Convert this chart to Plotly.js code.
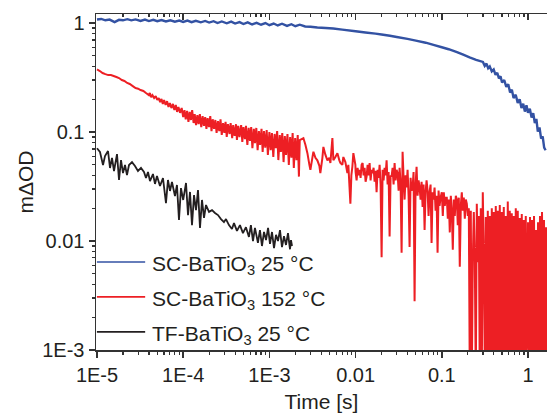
<!DOCTYPE html>
<html>
<head>
<meta charset="utf-8">
<script src="https://cdn.plot.ly/plotly-3.0.1.min.js"></script>
<style>html,body{margin:0;padding:0;background:#fff;}</style>
</head>
<body>
<div id="chart" style="width:547px;height:414px;"></div>
<script>
// ---- Series names ----
const seriesNames = ['SC-BaTiO<sub>3</sub> 25 °C', 'SC-BaTiO<sub>3</sub> 152 °C', 'TF-BaTiO<sub>3</sub> 25 °C'];

// ---- SC-BaTiO3 25 °C (blue) : time [s], mΔOD ----
const tBlue = [
  1e-5,1.12e-5,1.25e-5,1.4e-5,1.6e-5,1.8e-5,2e-5,2.25e-5,2.5e-5,2.8e-5,3.2e-5,3.6e-5,4e-5,4.5e-5,5e-5,5.6e-5,6.3e-5,7.1e-5,8e-5,9e-5,
  1e-4,1.12e-4,1.25e-4,1.4e-4,1.6e-4,1.8e-4,2e-4,2.25e-4,2.5e-4,2.8e-4,3.2e-4,3.6e-4,4e-4,4.5e-4,5e-4,5.6e-4,6.3e-4,7.1e-4,8e-4,9e-4,
  1e-3,1.12e-3,1.25e-3,1.4e-3,1.6e-3,1.8e-3,2e-3,2.25e-3,
  2.6e-3,3e-3,3.6e-3,4.5e-3,5.5e-3,7e-3,0.01,0.013,0.017,0.02,0.025,0.03,0.04,0.05,0.065,0.08,0.1,0.12,0.15,0.18,0.21,0.25,
  0.3,0.315,0.33,0.345,0.36,0.38,0.4,0.42,0.44,0.46,0.48,0.5,0.53,0.56,0.59,0.62,0.65,0.68,0.72,0.76,0.8,0.84,0.88,0.92,0.96,1.0,1.05,1.1,1.15,1.2,1.25,1.3,1.36,1.42,1.48,1.54,1.6
];
const vBlue = [
  1.077,1.09,1.06,1.075,1.02,1.07,1.06,1.085,1.058,1.08,1.045,1.075,1.042,1.07,1.04,1.065,1.035,1.06,1.03,1.055,
  1.025,1.055,1.02,1.05,1.015,1.045,1.01,1.04,1.0,1.035,0.995,1.03,0.99,1.02,0.98,1.015,0.97,1.005,0.965,1.0,
  0.955,0.99,0.95,0.985,0.94,0.975,0.935,0.965,
  0.93,0.925,0.91,0.9,0.89,0.87,0.84,0.82,0.8,0.785,0.765,0.745,0.715,0.69,0.66,0.63,0.6,0.575,0.54,0.51,0.485,0.46,
  0.44,0.405,0.425,0.385,0.40,0.36,0.375,0.335,0.35,0.31,0.325,0.285,0.30,0.26,0.275,0.23,0.245,0.205,0.22,0.185,0.20,0.166,0.182,0.154,0.176,0.150,0.164,0.136,0.149,0.121,0.132,0.101,0.110,0.087,0.091,0.072,0.068
];

// ---- SC-BaTiO3 152 °C (red) ----
const tRed = [
  1e-5,1.08e-5,1.16e-5,1.25e-5,1.35e-5,1.45e-5,1.56e-5,1.68e-5,1.8e-5,1.94e-5,2.08e-5,2.24e-5,2.4e-5,2.6e-5,2.8e-5,3.0e-5,3.2e-5,3.45e-5,3.7e-5,4.0e-5,
  4.1e-5,4.25e-5,4.4e-5,4.6e-5,4.8e-5,5.0e-5,5.2e-5,5.4e-5,5.6e-5,5.8e-5,6.0e-5,6.25e-5,6.5e-5,6.75e-5,7.0e-5,7.3e-5,7.6e-5,7.9e-5,8.2e-5,8.5e-5,8.8e-5,9.2e-5,9.6e-5,
  1.0e-4,1.035e-4,1.07e-4,1.11e-4,1.15e-4,1.19e-4,1.23e-4,1.27e-4,1.32e-4,1.36e-4,
  1.41e-4,1.46e-4,1.51e-4,1.56e-4,1.62e-4,1.68e-4,1.74e-4,1.8e-4,1.86e-4,1.92e-4,
  1.99e-4,2.06e-4,2.13e-4,2.2e-4,2.28e-4,2.36e-4,2.44e-4,2.53e-4,2.62e-4,2.71e-4,
  2.8e-4,2.9e-4,3.0e-4,3.1e-4,3.2e-4,3.3e-4,3.45e-4,3.55e-4,3.7e-4,3.8e-4,
  3.95e-4,4.1e-4,4.2e-4,4.35e-4,4.5e-4,4.7e-4,4.85e-4,5.0e-4,5.2e-4,5.35e-4,
  5.55e-4,5.75e-4,5.95e-4,6.15e-4,6.35e-4,6.6e-4,6.8e-4,7.05e-4,7.3e-4,7.55e-4,
  7.8e-4,8.1e-4,8.35e-4,8.65e-4,8.95e-4,9.3e-4,9.6e-4,
  1.0e-3,1.035e-3,1.07e-3,1.11e-3,1.15e-3,1.19e-3,1.23e-3,1.27e-3,1.32e-3,1.36e-3,
  1.41e-3,1.46e-3,1.51e-3,1.56e-3,1.62e-3,1.68e-3,1.74e-3,1.8e-3,1.86e-3,1.92e-3,
  1.99e-3,2.06e-3,2.13e-3,2.2e-3,2.25e-3,
  2.48e-3,2.62e-3,2.76e-3,2.91e-3,2.99e-3,3.15e-3,3.24e-3,3.42e-3,3.60e-3,3.80e-3,
  3.90e-3,4.12e-3,4.23e-3,4.46e-3,4.71e-3,4.96e-3,5.10e-3,5.38e-3,5.52e-3,5.83e-3,
  6.15e-3,6.48e-3,6.66e-3,7.02e-3,7.21e-3,7.61e-3,8.03e-3,8.24e-3,8.70e-3,8.93e-3,
  9.17e-3,9.42e-3,9.94e-3,
  0.01,0.01027,0.01055,0.01083,0.01113,0.01143,0.01174,0.01206,0.01238,0.01272,
  0.01306,0.01342,0.01378,0.01415,0.01454,0.01493,0.01533,0.01575,0.01617,0.01661,
  0.01706,0.01752,0.01800,0.01849,0.01899,0.01950,0.02003,0.02057,0.02113,0.02170,
  0.02228,0.02289,0.02351,0.02414,0.02480,0.02547,0.02616,0.02686,0.02759,0.02834,
  0.02910,0.02989,0.03070,0.03153,0.03238,0.03326,0.03416,0.03508,0.03603,0.03701,
  0.03801,0.03904,0.04009,0.04118,0.04229,0.04344,0.04461,0.04582,0.04706,0.04833,
  0.04964,0.05098,0.05236,0.05378,0.05523,0.05673,0.05826,0.05984,0.06146,0.06312,
  0.06483,0.06658,0.06838,0.07023,0.07213,0.07409,0.07609,0.07815,0.08026,0.08244,
  0.08467,0.08696,0.08931,0.09173,0.09421,0.09676,
  0.1,0.1027,0.1055,0.1083,0.1113,0.1143,0.1174,0.1206,0.1238,0.1272,
  0.1306,0.1342,0.1378,0.1415,0.1454,0.1493,0.1533,0.1575,0.1617,0.1661,
  0.1706,0.1752,0.1800,0.1849,0.1899,0.1950,0.2003,0.2057,
  0.2113,0.2170,0.2228,0.2289,0.2351,0.2414,0.2480,0.2547,0.2616,0.2686,
  0.2759,0.2834,0.2910,0.2989,0.3070,0.3153,0.3238,0.3326,0.3416,0.3508,
  0.3603,0.3701,0.3801,0.3904,0.4009,0.4118,0.4229,0.4344,0.4461,0.4582,
  0.4706,0.4833,0.4964,0.5098,0.5236,0.5378,0.5523,0.5673,0.5826,0.5984,
  0.6146,0.6312,0.6483,0.6658,0.6838,0.7023,0.7213,0.7409,0.7609,0.7815,
  0.8026,0.8244,0.8467,0.8696,0.8931,0.9173,0.9421,0.9676,
  1.0,1.027,1.055,1.083,1.113,1.143,1.174,1.206,1.238,1.272,
  1.306,1.342,1.378,1.415,1.454,1.493,1.533,1.575,1.617,1.661
];
const vRed = [
  0.375,0.363,0.348,0.340,0.333,0.333,0.327,0.320,0.313,0.300,0.294,0.282,0.276,0.264,0.253,0.250,0.243,0.238,0.228,0.218,
  0.228,0.209,0.218,0.205,0.214,0.197,0.205,0.188,0.201,0.181,0.197,0.177,0.192,0.170,0.184,0.166,0.181,0.159,0.177,0.153,0.170,0.150,0.166,
  0.137,0.159,0.131,0.156,0.124,0.153,0.129,0.159,0.121,0.146,
  0.116,0.143,0.118,0.146,0.111,0.140,0.114,0.137,0.107,0.134,
  0.111,0.140,0.102,0.131,0.107,0.129,0.098,0.126,0.102,0.131,
  0.094,0.121,0.098,0.124,0.090,0.118,0.096,0.121,0.088,0.116,
  0.092,0.118,0.0845,0.114,0.090,0.116,0.081,0.111,0.086,0.114,
  0.076,0.109,0.083,0.111,0.071,0.107,0.079,0.109,0.068,0.102,
  0.076,0.107,0.0656,0.102,0.072,0.104,0.0615,
  0.100,0.068,0.098,0.059,0.096,0.071,0.102,0.0553,0.094,0.0656,
  0.098,0.053,0.092,0.0615,0.096,0.0498,0.090,0.058,0.098,0.0468,
  0.088,0.0553,0.094,0.039,0.0845,
  0.088,0.076,0.064,0.050,0.045,0.058,0.066,0.058,0.055,0.049,
  0.042,0.058,0.073,0.062,0.055,0.058,0.052,0.088,0.055,0.059,
  0.064,0.055,0.052,0.050,0.059,0.053,0.042,0.050,0.022,0.040,
  0.048,0.064,0.050,
  0.043,0.036,0.047,0.040,0.045,0.038,0.050,0.052,0.040,0.047,
  0.035,0.039,0.050,0.040,0.052,0.036,0.045,0.042,0.047,0.035,
  0.044,0.028,0.045,0.038,0.050,0.033,0.0071,0.045,0.036,0.047,
  0.040,0.055,0.033,0.043,0.011,0.040,0.039,0.047,0.033,0.052,
  0.036,0.045,0.042,0.029,0.047,0.034,0.0078,0.066,0.038,0.024,
  0.040,0.031,0.045,0.026,0.0088,0.038,0.029,0.031,0.043,0.0028,
  0.033,0.048,0.026,0.036,0.031,0.024,0.035,0.0205,0.033,0.0126,
  0.028,0.036,0.029,0.017,0.028,0.033,0.0096,0.028,0.024,0.031,
  0.019,0.026,0.0078,0.029,0.021,0.025,
  0.028,0.017,0.028,0.021,0.025,0.025,0.016,0.024,0.012,0.026,
  0.019,0.0083,0.024,0.017,0.026,0.024,0.014,0.025,0.0058,0.021,
  0.028,0.019,0.025,0.016,0.024,0.022,0.017,0.020,
  0.0005,0.019,0.0005,0.0067,0.0185,0.0070,0.0005,0.022,0.0064,0.017,
  0.0005,0.020,0.0005,0.028,0.0074,0.0007,0.0166,0.0008,0.019,0.0008,
  0.017,0.0008,0.020,0.0008,0.0185,0.0008,0.021,0.0008,0.019,0.0008,
  0.0214,0.0008,0.0185,0.0008,0.0205,0.0008,0.017,0.0008,0.023,0.0008,
  0.019,0.0008,0.018,0.0008,0.017,0.0008,0.020,0.0008,0.019,0.0008,
  0.0163,0.0008,0.0177,0.0008,0.0156,0.0008,0.017,0.0008,
  0.0149,0.0008,0.0166,0.0008,0.0156,0.0008,0.017,0.0008,0.0126,0.0008,
  0.0149,0.0008,0.017,0.0008,0.0185,0.0008,0.0156,0.0008,0.0134,0.0008
];

// ---- TF-BaTiO3 25 °C (black) ----
const tBlack = [
  1.0e-5,1.083e-5,1.174e-5,1.238e-5,1.342e-5,1.415e-5,1.493e-5,1.575e-5,1.706e-5,1.8e-5,
  1.899e-5,2.003e-5,2.113e-5,2.228e-5,2.351e-5,2.547e-5,2.759e-5,2.989e-5,3.238e-5,3.508e-5,
  3.701e-5,3.904e-5,4.118e-5,4.461e-5,4.706e-5,4.964e-5,5.378e-5,5.826e-5,6.312e-5,6.658e-5,
  7.023e-5,7.409e-5,8.026e-5,8.467e-5,8.931e-5,9.421e-5,1.0e-4,1.078e-4,1.137e-4,1.199e-4,
  1.265e-4,1.335e-4,1.408e-4,1.485e-4,1.566e-4,1.652e-4,1.743e-4,1.839e-4,1.993e-4,2.159e-4,
  2.338e-4,2.532e-4,2.743e-4,2.971e-4,3.135e-4,3.395e-4,3.678e-4,3.882e-4,4.204e-4,4.555e-4,
  4.933e-4,5.344e-4,5.788e-4,6.1e-4,6.45e-4,6.8e-4,7.36e-4,7.77e-4,8.2e-4,8.66e-4,
  9.14e-4,9.65e-4,1.016e-3,1.072e-3,1.131e-3,1.193e-3,1.258e-3,1.327e-3,1.4e-3,1.477e-3,
  1.558e-3,1.643e-3,1.733e-3,1.78e-3,1.83e-3
];
const vBlack = [
  0.071,0.0656,0.0498,0.0602,0.0670,0.0468,0.058,0.0439,0.0628,0.0363,
  0.0553,0.0420,0.0498,0.0403,0.0498,0.053,0.0488,0.0439,0.0468,0.0430,
  0.0378,0.0430,0.0355,0.0412,0.0334,0.0395,0.0320,0.0378,0.0223,0.0363,
  0.0288,0.0348,0.0259,0.0327,0.0156,0.0306,0.0238,0.0341,0.0173,0.0282,
  0.0140,0.0264,0.0192,0.0294,0.0132,0.0238,0.0163,0.0214,0.0185,0.0192,
  0.0181,0.0173,0.0159,0.0149,0.0159,0.0140,0.0129,0.0146,0.0124,0.0140,
  0.0118,0.0134,0.0109,0.0140,0.0100,0.0132,0.0096,0.0126,0.0090,0.0121,
  0.0102,0.0132,0.0094,0.0121,0.0086,0.0114,0.0100,0.0126,0.0088,0.0111,
  0.0092,0.0118,0.0084,0.0102,0.0090
];

// ---- Tick labels ----
const xTickVals = [1e-5, 1e-4, 1e-3, 0.01, 0.1, 1];
const xTickText = ['1E-5', '1E-4', '1E-3', '0.01', '0.1', '1'];
const yTickVals = [1e-3, 0.01, 0.1, 1];
const yTickText = ['1E-3', '0.01', '0.1', '1'];

// ---- Styling ----
const colors = ['#3352a3', '#ed1f24', '#231f20'];
const axisColor = '#333333';

function minorVals(d0, d1) {
  const out = [];
  for (let d = d0; d <= d1; d++) for (let m = 2; m <= 9; m++) out.push(m * Math.pow(10, d));
  return out;
}
const xMinor = minorVals(-5, 0);
const yMinor = minorVals(-3, 0);

const xRange = [-5.0116, 0.2204];
const yRange = [-3, 0.083];

const traces = [
  {x: tBlue, y: vBlue, type: 'scatter', mode: 'lines', name: seriesNames[0],
   line: {color: colors[0], width: 2.4, simplify: false}, hoverinfo: 'skip'},
  {x: tRed, y: vRed, type: 'scatter', mode: 'lines', name: seriesNames[1],
   line: {color: colors[1], width: 2.0, simplify: false}, hoverinfo: 'skip'},
  {x: tBlack, y: vBlack, type: 'scatter', mode: 'lines', name: seriesNames[2],
   line: {color: colors[2], width: 1.8, simplify: false}, hoverinfo: 'skip'},
  {x: [], y: [], xaxis: 'x2', type: 'scatter', mode: 'lines', showlegend: false, hoverinfo: 'skip'}
];

const tickFont = {family: 'Liberation Sans, Arial, sans-serif', size: 20, color: '#231f20'};
const titleFont = {family: 'Liberation Sans, Arial, sans-serif', size: 21, color: '#231f20'};

// legend drawn as paper-anchored samples and labels
const legendY = [0.262, 0.158, 0.054];
const shapes = legendY.map((y, i) => ({
  type: 'line', xref: 'paper', yref: 'paper', x0: 0.002, x1: 0.109, y0: y, y1: y,
  line: {color: colors[i], width: 1.6}
}));
const annotations = legendY.map((y, i) => ({
  xref: 'paper', yref: 'paper', x: 0.12, y: y, xanchor: 'left', yanchor: 'middle',
  text: seriesNames[i], showarrow: false, font: titleFont, yshift: -3
}));

const layout = {
  width: 547, height: 414,
  margin: {l: 96, r: 0, t: 14, b: 64, pad: 0},
  paper_bgcolor: '#ffffff', plot_bgcolor: '#ffffff',
  showlegend: false,
  font: tickFont,
  xaxis: {
    type: 'log', range: xRange, showgrid: false, zeroline: false,
    showline: true, linecolor: axisColor, linewidth: 1.5,
    ticks: 'outside', ticklen: 6, tickwidth: 1.5, tickcolor: axisColor,
    tickmode: 'array', tickvals: xTickVals, ticktext: xTickText, tickfont: tickFont,
    minor: {tickmode: 'array', tickvals: xMinor, ticks: 'outside', ticklen: 3, tickwidth: 1.2, tickcolor: axisColor, showgrid: false},
    title: {text: 'Time [s]', font: titleFont, standoff: 10}
  },
  xaxis2: {
    type: 'log', range: xRange, overlaying: 'x', side: 'top', anchor: 'y',
    showgrid: false, zeroline: false, showline: true, linecolor: axisColor, linewidth: 1.5,
    ticks: 'inside', ticklen: 6, tickwidth: 1.5, tickcolor: axisColor,
    tickmode: 'array', tickvals: xTickVals, showticklabels: false,
    minor: {tickmode: 'array', tickvals: xMinor, ticks: 'inside', ticklen: 3, tickwidth: 1.2, tickcolor: axisColor, showgrid: false}
  },
  yaxis: {
    type: 'log', range: yRange, showgrid: false, zeroline: false,
    showline: true, linecolor: axisColor, linewidth: 1.5,
    ticks: 'outside', ticklen: 6, tickwidth: 1.5, tickcolor: axisColor,
    tickmode: 'array', tickvals: yTickVals, ticktext: yTickText, tickfont: tickFont,
    minor: {tickmode: 'array', tickvals: yMinor, ticks: 'outside', ticklen: 3, tickwidth: 1.2, tickcolor: axisColor, showgrid: false},
    title: {text: 'mΔOD', font: titleFont, standoff: 3}
  },
  shapes: shapes,
  annotations: annotations
};

Plotly.newPlot('chart', traces, layout, {staticPlot: true, displayModeBar: false});
</script>
</body>
</html>
